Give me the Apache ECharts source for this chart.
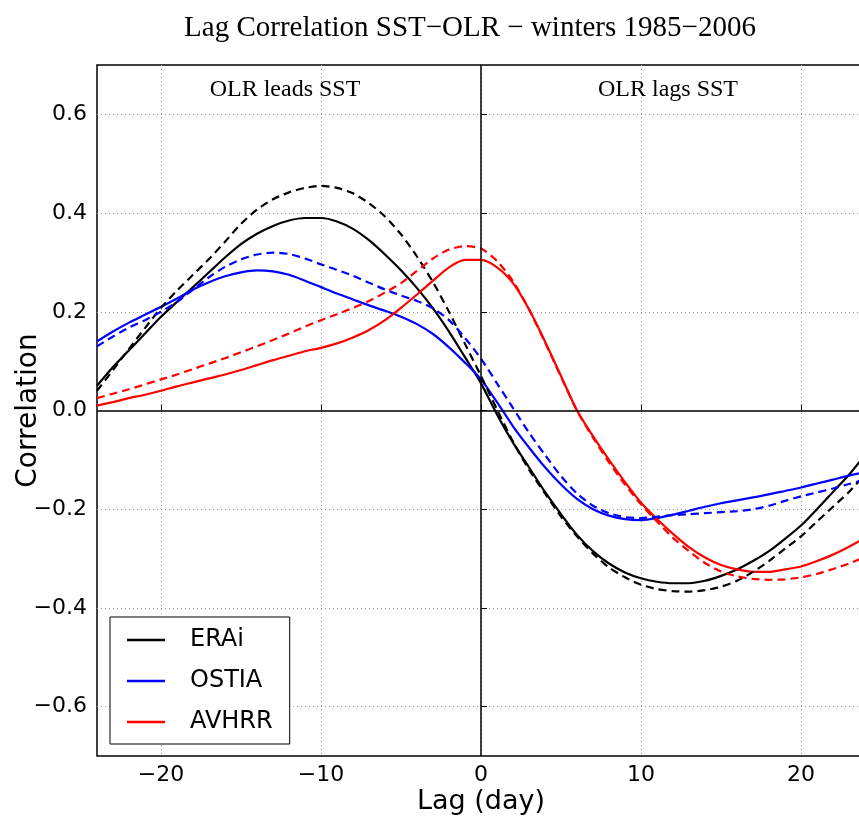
<!DOCTYPE html>
<html>
<head>
<meta charset="utf-8">
<script src="https://cdn.jsdelivr.net/npm/echarts@6/dist/echarts.min.js"></script>
<style>
  html, body { margin: 0; padding: 0; background: #fff; }
  #chart { width: 859px; height: 822px; }
</style>
</head>
<body>
<div id="chart"></div>
<script>
// lag in days
const lags = [-24, -23, -22, -21, -20, -19, -18, -17, -16, -15, -14, -13, -12, -11, -10, -9, -8, -7, -6, -5, -4, -3, -2, -1,
  0, 1, 2, 3, 4, 5, 6, 7, 8, 9, 10, 11, 12, 13, 14, 15, 16, 17, 18, 19, 20, 21, 22, 23, 24];

// solid lines
const eraiSolid = [0.05, 0.088, 0.122, 0.156, 0.19, 0.22, 0.25, 0.28, 0.31, 0.337, 0.358, 0.374, 0.385, 0.39, 0.39, 0.383, 0.368, 0.345, 0.316, 0.284, 0.248, 0.207, 0.16, 0.108,
  0.055, -0.008, -0.065, -0.115, -0.165, -0.21, -0.252, -0.285, -0.31, -0.328, -0.34, -0.347, -0.35, -0.35, -0.345, -0.335, -0.322, -0.305, -0.285, -0.26, -0.233, -0.2, -0.165, -0.13, -0.09];
const ostiaSolid = [0.14, 0.16, 0.178, 0.194, 0.21, 0.227, 0.245, 0.26, 0.272, 0.28, 0.284, 0.282, 0.275, 0.263, 0.25, 0.237, 0.225, 0.213, 0.202, 0.19, 0.175, 0.155, 0.128, 0.097,
  0.063, 0.017, -0.032, -0.075, -0.115, -0.15, -0.179, -0.2, -0.213, -0.22, -0.222, -0.218, -0.211, -0.203, -0.195, -0.188, -0.182, -0.176, -0.17, -0.163, -0.156, -0.148, -0.14, -0.132, -0.125];
const avhrrSolid = [0.01, 0.017, 0.025, 0.032, 0.04, 0.049, 0.057, 0.065, 0.073, 0.082, 0.092, 0.102, 0.111, 0.12, 0.127, 0.136, 0.148, 0.163, 0.183, 0.208, 0.235, 0.263, 0.29, 0.305,
  0.305, 0.29, 0.258, 0.205, 0.14, 0.07, 0.0, -0.052, -0.1, -0.145, -0.187, -0.22, -0.25, -0.277, -0.298, -0.313, -0.322, -0.327, -0.327, -0.322, -0.316, -0.305, -0.292, -0.276, -0.258];

// dashed lines
const eraiDashed = [0.04, 0.082, 0.125, 0.167, 0.208, 0.243, 0.275, 0.307, 0.342, 0.378, 0.407, 0.428, 0.442, 0.451, 0.455, 0.451, 0.44, 0.42, 0.393, 0.357, 0.312, 0.26, 0.2, 0.135,
  0.07, 0.002, -0.063, -0.12, -0.168, -0.215, -0.255, -0.29, -0.318, -0.338, -0.353, -0.362, -0.366, -0.367, -0.364, -0.357, -0.345, -0.327, -0.305, -0.28, -0.255, -0.225, -0.195, -0.165, -0.13];
const ostiaDashed = [0.13, 0.15, 0.168, 0.183, 0.2, 0.22, 0.245, 0.27, 0.291, 0.306, 0.316, 0.32, 0.317, 0.308, 0.296, 0.285, 0.273, 0.259, 0.245, 0.233, 0.222, 0.207, 0.183, 0.147,
  0.105, 0.055, 0.005, -0.045, -0.09, -0.133, -0.168, -0.193, -0.208, -0.216, -0.218, -0.215, -0.212, -0.21, -0.208, -0.206, -0.204, -0.2, -0.193, -0.183, -0.174, -0.166, -0.158, -0.149, -0.14];
const avhrrDashed = [0.025, 0.034, 0.043, 0.053, 0.063, 0.073, 0.084, 0.095, 0.106, 0.118, 0.13, 0.143, 0.156, 0.17, 0.183, 0.195, 0.208, 0.222, 0.239, 0.258, 0.283, 0.308, 0.326, 0.333,
  0.328, 0.303, 0.262, 0.205, 0.138, 0.068, 0.0, -0.055, -0.105, -0.15, -0.19, -0.225, -0.258, -0.285, -0.309, -0.326, -0.336, -0.341, -0.343, -0.342, -0.338, -0.331, -0.321, -0.31, -0.297];

const xTicks = [-20, -10, 0, 10, 20];
const yTicks = [-0.6, -0.4, -0.2, 0.0, 0.2, 0.4, 0.6];

const minus = (s) => String(s).replace('-', '\u2212');
const pairs = (vals) => lags.map((l, i) => [l, vals[i]]);

function lineSeries(name, vals, color, dashed) {
  return {
    name: name,
    type: 'line',
    data: pairs(vals),
    symbol: 'none',
    smooth: 0.25,
    clip: true,
    color: color,
    lineStyle: { color: color, width: 2.2, type: dashed ? [8, 5] : 'solid' },
    z: 3,
  };
}

const series = [
  lineSeries('ERAi', eraiSolid, '#000000', false),
  lineSeries('OSTIA', ostiaSolid, '#0000ff', false),
  lineSeries('AVHRR', avhrrSolid, '#ff0000', false),
  lineSeries('ERAi dashed', eraiDashed, '#000000', true),
  lineSeries('OSTIA dashed', ostiaDashed, '#0000ff', true),
  lineSeries('AVHRR dashed', avhrrDashed, '#ff0000', true),
];

// zero lines
series[0].markLine = {
  silent: true,
  symbol: 'none',
  label: { show: false },
  lineStyle: { color: '#000', type: 'solid', width: 1.5 },
  data: [{ xAxis: 0 }, { yAxis: 0 }],
};

const chart = echarts.init(document.getElementById('chart'));
chart.setOption({
  animation: false,
  backgroundColor: '#fff',
  grid: {
    left: 97, top: 65, bottom: 66, right: -6,
    outerBoundsMode: 'none',
    containLabel: false,
    show: true, borderColor: '#000', borderWidth: 1.5,
  },
  graphic: [
    {
      type: 'text', x: 470, y: 28,
      style: {
        text: 'Lag Correlation SST\u2212OLR \u2212 winters 1985\u22122006',
        font: '29px "Liberation Serif"', fill: '#000',
        textAlign: 'center', textVerticalAlign: 'middle',
      },
    },
    {
      type: 'text', x: 285, y: 90, z: 10,
      style: {
        text: 'OLR leads SST', font: '24px "Liberation Serif"', fill: '#000',
        textAlign: 'center', textVerticalAlign: 'middle',
      },
    },
    {
      type: 'text', x: 668, y: 90, z: 10,
      style: {
        text: 'OLR lags SST', font: '24px "Liberation Serif"', fill: '#000',
        textAlign: 'center', textVerticalAlign: 'middle',
      },
    },
  ],
  legend: {
    data: ['ERAi', 'OSTIA', 'AVHRR'],
    orient: 'vertical',
    left: 110,
    top: 617,
    icon: 'rect',
    itemWidth: 38,
    itemHeight: 2.4,
    itemGap: 17,
    padding: [11, 17, 10, 17],
    backgroundColor: '#fff',
    borderColor: '#000',
    borderWidth: 1,
    borderRadius: 0,
    textStyle: {
      fontFamily: 'DejaVu Sans', fontSize: 24, lineHeight: 24, color: '#000',
      padding: [0, 0, 0, 20],
    },
    z: 20,
  },
  xAxis: {
    type: 'value',
    min: -24,
    max: 24,
    name: 'Lag (day)',
    nameLocation: 'middle',
    nameGap: 32,
    nameMoveOverlap: false,
    nameTextStyle: { fontFamily: 'DejaVu Sans', fontSize: 27, color: '#000' },
    axisLine: { show: false },
    axisTick: { show: true, inside: true, length: 6, customValues: xTicks, lineStyle: { color: '#000' } },
    axisLabel: {
      customValues: xTicks, margin: 8,
      fontFamily: 'DejaVu Sans', fontSize: 22, color: '#000',
      formatter: (v) => minus(v),
    },
    splitLine: { show: true, lineStyle: { color: '#999', type: [1, 3], width: 1 } },
  },
  yAxis: {
    type: 'value',
    min: -0.7,
    max: 0.7,
    name: 'Correlation',
    nameLocation: 'middle',
    nameGap: 54,
    nameMoveOverlap: false,
    nameTextStyle: { fontFamily: 'DejaVu Sans', fontSize: 28, color: '#000' },
    axisLine: { show: false },
    axisTick: { show: true, inside: true, length: 6, customValues: yTicks, lineStyle: { color: '#000' } },
    axisLabel: {
      customValues: yTicks, margin: 10,
      fontFamily: 'DejaVu Sans', fontSize: 22, color: '#000',
      formatter: (v) => minus(v.toFixed(1)),
    },
    splitLine: { show: true, lineStyle: { color: '#999', type: [1, 3], width: 1 } },
  },
  series: series,
});
</script>
</body>
</html>
